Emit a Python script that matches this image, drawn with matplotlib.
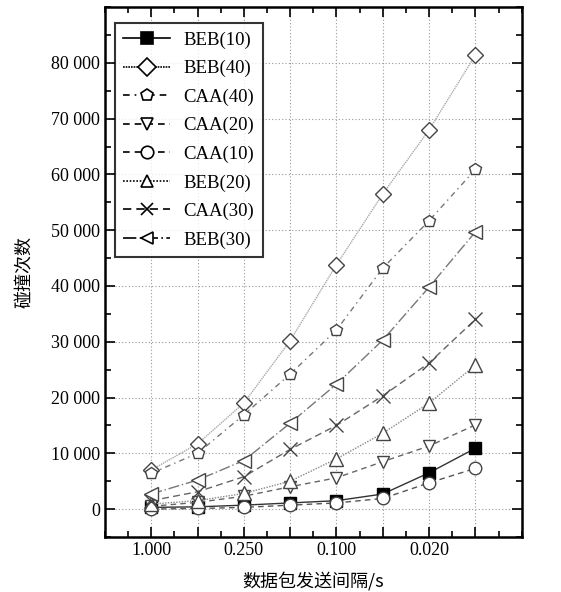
import matplotlib
matplotlib.use("Agg")
import matplotlib.pyplot as plt
from matplotlib.lines import Line2D
from matplotlib.ticker import FuncFormatter, MultipleLocator

plt.rcParams['font.family'] = ['Liberation Serif', 'Noto Sans CJK SC']

# data
x_labels = ["1.000", "", "0.250", "", "0.100", "", "0.020", ""]
x_pos = list(range(len(x_labels)))

names = ["BEB(10)", "BEB(40)", "CAA(40)", "CAA(20)", "CAA(10)", "BEB(20)", "CAA(30)", "BEB(30)"]
beb10 = [300, 400, 700, 1100, 1500, 2700, 6500, 10900]
beb40 = [7000, 11700, 19000, 30200, 43800, 56500, 68000, 81400]
caa40 = [6400, 10000, 16900, 24200, 32100, 43200, 51700, 60900]
caa20 = [500, 1200, 2300, 4000, 5600, 8500, 11300, 15100]
caa10 = [0, 100, 300, 700, 1100, 1900, 4700, 7300]
beb20 = [900, 1500, 2800, 5000, 9000, 13600, 19000, 25800]
caa30 = [1500, 3100, 5800, 10700, 15000, 20300, 26200, 34000]
beb30 = [2700, 5200, 8700, 15400, 22400, 30300, 39800, 49700]
series = [beb10, beb40, caa40, caa20, caa10, beb20, caa30, beb30]

markers = ["s", "D", "p", "v", "o", "^", "X", "<"]
styles = ["-", (0, (1, 0.6)), (0, (4, 3, 1, 3)), (0, (4, 3)), (0, (4, 3)),
          (0, (1, 1)), (0, (5, 3)), (0, (8, 2, 1, 2))]
fills = ["black", "white", "white", "white", "white", "white", "white", "white"]
line_gray = ["#333333", "#aaaaaa", "#777777", "#666666", "#555555", "#888888", "#666666", "#777777"]
msizes = [8, 8, 9, 9, 9, 10, 10, 10]

fig = plt.figure(figsize=(5.61, 5.92), dpi=100)
ax = fig.add_axes([0.187, 0.093, 0.743, 0.895])

for vals, m, ls, fc, lc, ms in zip(series, markers, styles, fills, line_gray, msizes):
    mk = "x" if m == "X" else m
    ax.plot(x_pos, vals, linestyle=ls, color=lc, linewidth=1.0, marker=mk,
            markersize=ms, markerfacecolor=fc if m != "s" else "black",
            markeredgecolor="#444444" if m != "s" else "black", markeredgewidth=1.0)

ax.set_xlim(-1, 8)
ax.set_ylim(-5000, 90000)
ax.set_xticks(x_pos)
ax.set_xticklabels(x_labels, fontsize=13)
ax.xaxis.set_minor_locator(MultipleLocator(0.5))
ax.yaxis.set_major_locator(MultipleLocator(10000))
ax.yaxis.set_minor_locator(MultipleLocator(5000))
ax.set_yticks(range(0, 90000, 10000))
ax.yaxis.set_major_formatter(FuncFormatter(lambda v, p: f"{int(v):,}".replace(",", " ")))
ax.tick_params(axis="y", labelsize=13)
ax.tick_params(which="both", direction="in", top=True, right=True, width=1.2)
ax.tick_params(which="major", length=7)
ax.tick_params(which="minor", length=4)
ax.grid(True, which="major", linestyle=(0, (1, 2)), color="#999999", linewidth=0.8)
for s in ax.spines.values():
    s.set_linewidth(1.8)

ax.set_ylabel("碰撞次数", fontsize=13, family=["Noto Sans CJK SC"], labelpad=12)
ax.set_xlabel("数据包发送间隔/s", fontsize=13, family=["Noto Sans CJK SC"], labelpad=10)

handles = []
for m, ls, fc in zip(markers, styles, fills):
    mk = "x" if m == "X" else m
    handles.append(Line2D([], [], linestyle=ls, color="black", linewidth=1.2, marker=mk,
                          markersize=9, markerfacecolor=fc, markeredgecolor="black",
                          markeredgewidth=1.2))
leg = ax.legend(handles, names, loc="upper left", bbox_to_anchor=(0.024, 0.970), fontsize=13.5,
                handlelength=2.5, handletextpad=0.7, labelspacing=0.6, frameon=True,
                fancybox=False, edgecolor="black", borderpad=0.45, borderaxespad=0)
leg.get_frame().set_linewidth(1.5)

fig.savefig("out.png", dpi=100)
